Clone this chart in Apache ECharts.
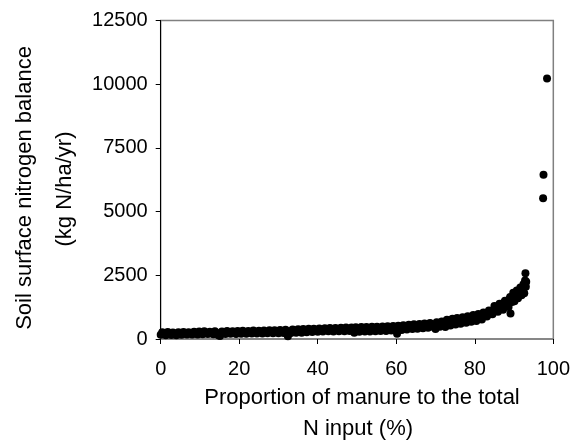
<!DOCTYPE html>
<html>
<head>
<meta charset="utf-8">
<script src="https://cdn.jsdelivr.net/npm/echarts@6/dist/echarts.min.js"></script>
<style>
html,body{margin:0;padding:0;background:#fff;}
#chart{width:573px;height:441px;}
</style>
</head>
<body>
<div id="chart"></div>
<script>
// Proportion of manure to total N input (%)
const manurePct = [
  0.0, 0.4, 0.9, 1.3, 1.8, 2.2, 2.7, 3.1, 3.6, 4.0, 4.5, 4.9,
  5.3, 5.8, 6.2, 6.7, 7.1, 7.6, 8.0, 8.5, 8.9, 9.4, 9.8,
  10.2, 10.7, 11.1, 11.6, 12.0, 12.5, 12.9, 13.4, 13.8, 14.3, 14.7,
  15.1, 15.6, 16.0, 16.5, 16.9, 17.4, 17.8, 18.3, 18.7, 19.2, 19.6,
  20.0, 20.5, 20.9, 21.4, 21.8, 22.3, 22.7, 23.2, 23.6, 24.1, 24.5,
  25.0, 25.4, 25.9, 26.3, 26.8, 27.2, 27.7, 28.1, 28.6, 29.0, 29.5,
  30.0, 30.4, 30.9, 31.3, 31.8, 32.4, 32.7, 33.2, 33.6, 34.1, 34.5,
  35.0, 35.4, 35.9, 36.3, 36.8, 37.2, 37.7, 38.1, 38.6, 39.0, 39.5,
  40.0, 40.4, 40.9, 41.3, 41.8, 42.2, 42.7, 43.1, 43.6, 44.0, 44.5,
  45.0, 45.4, 45.9, 46.3, 46.8, 47.2, 47.7, 48.1, 48.6, 49.0, 49.3, 49.7,
  50.2, 50.6, 51.1, 51.5, 52.0, 52.4, 52.9, 53.3, 53.8, 54.2, 54.7,
  55.1, 55.6, 56.0, 56.5, 56.9, 57.4, 57.8, 58.3, 58.7, 59.2, 59.6,
  60.0, 60.2, 60.5, 60.9, 61.4, 61.8, 62.3, 62.7, 63.2, 63.6, 64.1, 64.5,
  65.0, 65.4, 65.9, 66.3, 66.8, 67.2, 67.7, 68.1, 68.6, 69.0, 69.5,
  70.0, 70.3, 70.7, 71.1, 71.6, 72.0, 72.5, 72.9, 73.4, 73.8, 74.3, 74.7,
  75.1, 75.5, 76.0, 76.4, 76.9, 77.3, 77.8, 78.2, 78.7, 79.1, 79.6,
  80.0, 80.4, 80.9, 81.3, 81.8, 82.2, 82.7, 83.1, 83.6, 84.0, 84.5,
  85.0, 85.4, 85.9, 86.3, 86.8, 87.2, 87.7, 88.1, 88.6, 89.0, 89.1, 89.5,
  85.2, 86.0, 86.6, 87.4, 88.3, 88.8,
  89.8, 90.1, 90.4, 90.7, 91.0, 91.3, 91.6, 91.9, 92.1, 92.4, 92.6, 92.8, 92.9, 93.0,
  90.0, 90.6, 91.2, 91.8, 92.3, 92.7, 93.1,
  97.4, 97.5, 98.4
];
// Soil surface nitrogen balance (kg N/ha/yr)
const nBalance = [
  170, 265, 205, 150, 272, 215, 160, 258, 198, 148, 268, 220,
  165, 275, 210, 172, 262, 230, 180, 285, 215, 178, 292,
  230, 190, 300, 240, 195, 288, 225, 186, 305, 232, 145,
  120, 296, 240, 198, 310, 248, 205, 302, 255, 200, 318,
  250, 205, 322, 262, 210, 315, 258, 215, 330, 270, 212,
  325, 268, 218, 338, 275, 222, 345, 282, 225, 340, 290,
  230, 352, 290, 238, 360, 110, 295, 240, 372, 300, 245,
  385, 310, 250, 390, 322, 262, 398, 330, 270, 405, 338,
  282, 410, 345, 290, 418, 352, 305, 430, 365, 298, 436,
  372, 305, 442, 380, 300, 450, 385, 310, 455, 392, 247, 462,
  395, 285, 468, 398, 292, 472, 405, 298, 478, 410, 305,
  485, 415, 312, 490, 420, 318, 500, 425, 330, 512, 440,
  325, 210, 520, 445, 350, 535, 460, 372, 560, 480, 390, 575,
  500, 405, 592, 515, 420, 610, 535, 440, 632, 550, 470,
  392, 660, 575, 480, 690, 590, 472, 755, 620, 530, 790, 650,
  565, 820, 700, 600, 855, 735, 640, 895, 760, 680, 940,
  820, 705, 985, 860, 762, 1040, 905, 880, 1120, 1000, 975,
  1300, 1140, 1070, 1380, 1220, 1150, 1500, 1340, 1260, 1650, 1000, 1450,
  1180, 1250, 1310, 1420, 1480, 1560,
  1820, 1480, 1650, 1900, 1600, 1780, 2020, 1720, 1930, 2150, 1800, 2300, 2580, 2050,
  1650, 1760, 1880, 1960, 2000, 2150, 2250,
  5520, 6450, 10220
];
const xTicks = [0, 20, 40, 60, 80, 100];
const yTicks = [0, 2500, 5000, 7500, 10000, 12500];
const xTitle = ['Proportion of manure to the total', 'N input (%)'];
const yTitle = ['Soil surface nitrogen balance', '(kg N/ha/yr)'];

const FONT = "'Liberation Sans', Arial, sans-serif";
const points = manurePct.map((x, i) => [x, nBalance[i]]);

const chart = echarts.init(document.getElementById('chart'), null, {renderer: 'canvas'});
chart.setOption({
  animation: false,
  backgroundColor: '#fff',
  grid: {
    left: 160.7, right: 18.3, top: 20.5, bottom: 102,
    show: true, borderColor: '#808080', borderWidth: 1.5, backgroundColor: 'transparent'
  },
  xAxis: {
    type: 'value',
    min: xTicks[0], max: xTicks[xTicks.length - 1], interval: xTicks[1] - xTicks[0],
    axisLine: {show: true, onZero: false, lineStyle: {color: '#808080', width: 1.5}},
    axisTick: {show: true, inside: false, length: 5, lineStyle: {color: '#000', width: 1}},
    axisLabel: {fontSize: 20, fontFamily: FONT, color: '#000', margin: 20, formatter: v => String(v)},
    splitLine: {show: false}
  },
  yAxis: {
    type: 'value',
    min: yTicks[0], max: yTicks[yTicks.length - 1], interval: yTicks[1] - yTicks[0],
    axisLine: {show: true, onZero: false, lineStyle: {color: '#000', width: 1}},
    axisTick: {show: true, inside: false, length: 5, lineStyle: {color: '#000', width: 1}},
    axisLabel: {fontSize: 20, fontFamily: FONT, color: '#000', margin: 13, formatter: v => String(v)},
    splitLine: {show: false}
  },
  graphic: [
    {type: 'text', x: 362, y: 398, style: {text: xTitle[0], fontSize: 22, fontFamily: FONT, fill: '#000', align: 'center', verticalAlign: 'middle'}},
    {type: 'text', x: 358, y: 429, style: {text: xTitle[1], fontSize: 22, fontFamily: FONT, fill: '#000', align: 'center', verticalAlign: 'middle'}},
    {type: 'text', x: 25, y: 188, rotation: Math.PI / 2, style: {text: yTitle[0], fontSize: 22, fontFamily: FONT, fill: '#000', align: 'center', verticalAlign: 'middle'}},
    {type: 'text', x: 65, y: 189, rotation: Math.PI / 2, style: {text: yTitle[1], fontSize: 22, fontFamily: FONT, fill: '#000', align: 'center', verticalAlign: 'middle'}}
  ],
  series: [{
    type: 'scatter',
    data: points,
    symbol: 'circle',
    symbolSize: 8,
    itemStyle: {color: '#000', opacity: 1},
    clip: false
  }]
});
</script>
</body>
</html>
